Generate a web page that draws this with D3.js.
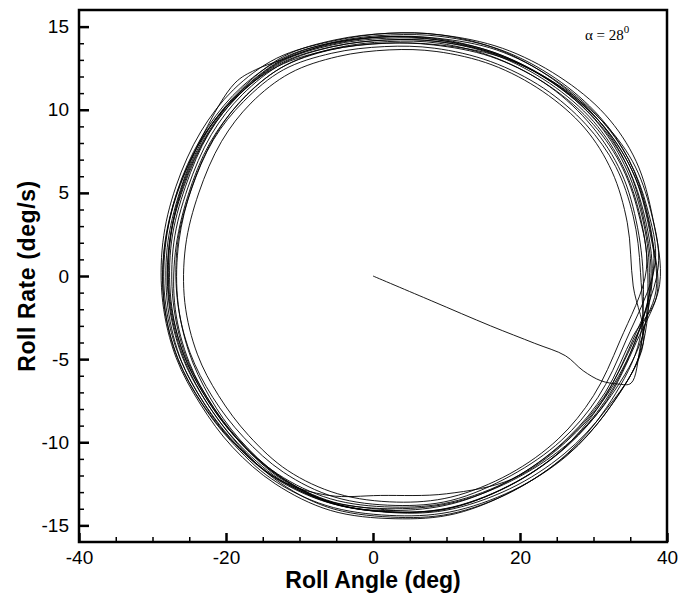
<!DOCTYPE html>
<html>
<head>
<meta charset="utf-8">
<script src="https://cdn.jsdelivr.net/npm/d3@7"></script>
<style>
  html, body { margin: 0; padding: 0; background: #fff; }
  svg { display: block; }
</style>
</head>
<body>
<script>
// ---- Data ----
const xTicks = [-40, -20, 0, 20, 40];
const yTicks = [-15, -10, -5, 0, 5, 10, 15];
const xMinorTicks = [-35, -30, -25, -15, -10, -5, 5, 10, 15, 25, 30, 35];
const yMinorTicks = [-14, -13, -12, -11, -9, -8, -7, -6, -4, -3, -2, -1, 1, 2, 3, 4, 6, 7, 8, 9, 11, 12, 13, 14];
const annotation = "α = 28";

// [roll angle (deg), roll rate (deg/s)]
const transient = [[0, 0], [8, -1.5], [16, -3.0], [22, -4.05], [26.2, -4.8], [28.6, -5.7], [31.0, -6.3], [33.4, -6.5], [35.1, -6.45], [36.4, -4.2]];
const loop1 = [[38.0, 0.0], [37.0, 3.5], [34.6, 6.6], [30.5, 9.3], [24.5, 11.6], [17.0, 13.3], [9.0, 14.1], [2.0, 14.2], [-5.5, 13.8], [-12.5, 12.8], [-18.2, 10.9], [-22.5, 8.5], [-25.8, 5.3], [-27.7, 2.0], [-27.8, -1.5], [-26.0, -4.8], [-22.8, -7.5], [-18.5, -10.0], [-12.8, -12.2], [-5.5, -13.7], [3.0, -14.2], [11.0, -13.9], [19.5, -12.4], [26.5, -10.2], [31.8, -7.5], [35.8, -4.0]];
const loop2 = [[39.0, -0.5], [38.1, 3.4], [35.8, 6.9], [31.6, 9.7], [25.3, 12.0], [17.6, 13.7], [9.3, 14.5], [2.0, 14.6], [-5.8, 14.1], [-13.1, 13.1], [-19.0, 11.2], [-23.4, 8.7], [-26.8, 5.4], [-28.6, 2.0], [-28.6, -1.6], [-26.8, -4.9], [-23.5, -7.7], [-19.1, -10.3], [-13.3, -12.5], [-5.8, -14.1], [3.0, -14.6], [11.2, -14.3], [20.0, -12.7], [27.3, -10.4], [32.7, -7.6], [36.8, -4.0]];
const loop3 = [[35.4, -0.6], [34.6, 3.2], [32.5, 6.3], [28.8, 8.9], [23.1, 11.1], [16.2, 12.7], [8.7, 13.5], [2.2, 13.6], [-4.8, 13.2], [-11.3, 12.2], [-16.6, 10.4], [-20.6, 8.1], [-23.7, 5.0], [-25.5, 1.8], [-25.6, -1.6], [-23.9, -4.7], [-21.0, -7.2], [-16.9, -9.6], [-11.6, -11.7], [-4.8, -13.1], [3.2, -13.6], [10.6, -13.3], [18.6, -11.9], [25.2, -9.8], [30.0, -7.2], [33.6, -3.9]];
const loop4 = [[37.2, 0.4], [36.1, 3.8], [33.6, 6.8], [29.4, 9.4], [23.4, 11.6], [16.0, 13.2], [8.2, 13.9], [1.3, 14.0], [-5.8, 13.6], [-12.6, 12.5], [-18.0, 10.5], [-22.2, 8.0], [-25.2, 4.8], [-26.9, 1.4], [-26.9, -2.0], [-25.0, -5.2], [-21.7, -7.9], [-17.3, -10.3], [-11.6, -12.4], [-4.4, -13.8], [3.8, -14.1], [11.6, -13.6], [19.8, -12.0], [26.6, -9.7], [31.6, -7.0], [35.4, -3.6]];
const loop5 = [[38.6, -1.2], [37.8, 2.6], [35.6, 6.0], [31.6, 8.9], [25.6, 11.3], [18.2, 13.1], [10.2, 14.1], [3.0, 14.4], [-4.6, 14.1], [-11.8, 13.2], [-17.8, 11.4], [-22.4, 9.0], [-26.0, 5.9], [-28.0, 2.6], [-28.4, -0.9], [-26.9, -4.2], [-23.9, -7.0], [-19.8, -9.6], [-14.2, -11.9], [-7.0, -13.5], [1.6, -14.2], [9.8, -14.1], [18.6, -12.8], [26.0, -10.7], [31.6, -8.1], [36.2, -4.8]];
const loop6 = [[36.4, 0.2], [35.4, 3.6], [33.0, 6.6], [29.0, 9.1], [23.2, 11.3], [16.0, 12.9], [8.4, 13.7], [1.6, 13.8], [-5.6, 13.4], [-12.2, 12.4], [-17.6, 10.5], [-21.7, 8.2], [-24.8, 5.1], [-26.6, 1.9], [-26.6, -1.5], [-24.9, -4.6], [-21.8, -7.3], [-17.6, -9.7], [-12.2, -11.8], [-5.2, -13.3], [3.0, -13.8], [10.6, -13.5], [18.8, -12.0], [25.6, -9.9], [30.6, -7.3], [34.4, -3.9]];
const loop7 = [[38.4, 0.8], [37.3, 4.1], [34.8, 7.0], [30.6, 9.6], [24.4, 11.9], [16.8, 13.6], [8.8, 14.3], [1.8, 14.4], [-5.6, 14.0], [-12.4, 13.0], [-16.0, 12.4], [-18.8, 11.6], [-23.0, 8.6], [-26.2, 5.2], [-28.0, 1.7], [-27.9, -1.9], [-26.0, -5.2], [-22.6, -7.9], [-18.2, -10.3], [-12.6, -12.3], [-6.0, -13.2], [1.0, -13.2], [10.0, -13.1], [19.0, -12.2], [26.2, -10.0], [31.6, -7.3], [35.8, -3.8]];
const loop8 = [[37.8, -0.3], [36.9, 3.3], [34.6, 6.6], [30.6, 9.4], [24.6, 11.8], [17.2, 13.6], [9.2, 14.5], [2.2, 14.6], [-5.2, 14.2], [-12.2, 13.2], [-18.0, 11.2], [-22.4, 8.8], [-25.8, 5.6], [-27.6, 2.3], [-27.8, -1.1], [-26.2, -4.4], [-23.2, -7.2], [-19.0, -9.8], [-13.4, -12.2], [-6.2, -13.9], [2.4, -14.5], [10.6, -14.3], [19.2, -12.9], [26.4, -10.7], [31.8, -7.9], [36.0, -4.3]];
const loop9 = [[36.8, -0.8], [36.0, 2.9], [33.8, 6.2], [29.8, 9.0], [24.0, 11.4], [16.8, 13.1], [9.0, 14.0], [2.0, 14.1], [-5.2, 13.7], [-11.8, 12.7], [-17.2, 10.9], [-21.4, 8.5], [-24.6, 5.4], [-26.4, 2.1], [-26.6, -1.3], [-25.1, -4.5], [-22.2, -7.3], [-18.2, -9.8], [-12.8, -12.0], [-5.8, -13.6], [2.4, -14.2], [10.2, -14.0], [18.6, -12.6], [25.6, -10.5], [30.8, -7.8], [34.8, -4.4]];
const loop10 = [[38.8, 0.5], [37.8, 3.9], [35.3, 6.9], [31.0, 9.4], [24.8, 11.6], [17.2, 13.2], [9.0, 13.9], [1.8, 14.0], [-5.9, 13.6], [-13.0, 12.6], [-18.8, 10.7], [-23.2, 8.3], [-26.6, 5.1], [-28.4, 1.7], [-28.4, -1.8], [-26.5, -5.0], [-23.2, -7.7], [-18.8, -10.1], [-13.0, -12.2], [-5.6, -13.6], [3.0, -14.0], [11.2, -13.6], [19.8, -12.1], [27.0, -9.9], [32.4, -7.2], [36.6, -3.7]];
const loop11 = [[37.4, 0.0], [36.4, 3.5], [34.0, 6.6], [30.0, 9.3], [24.0, 11.6], [16.6, 13.3], [8.8, 14.1], [1.8, 14.2], [-5.4, 13.8], [-12.2, 12.8], [-17.8, 10.9], [-22.0, 8.5], [-25.2, 5.3], [-27.1, 2.0], [-27.2, -1.5], [-25.5, -4.8], [-22.3, -7.5], [-18.1, -10.0], [-12.5, -12.2], [-5.3, -13.7], [3.0, -14.2], [10.8, -13.9], [19.4, -12.4], [26.4, -10.2], [31.6, -7.5], [35.6, -4.0]];
const loop12 = [[38.2, 0.6], [37.2, 4.0], [34.8, 7.0], [30.8, 9.6], [24.8, 11.9], [17.4, 13.6], [9.4, 14.4], [2.4, 14.5], [-5.0, 14.1], [-12.0, 13.1], [-17.8, 11.2], [-22.2, 8.8], [-25.6, 5.7], [-27.5, 2.4], [-27.7, -1.1], [-26.0, -4.4], [-22.9, -7.2], [-18.7, -9.7], [-13.0, -11.9], [-5.8, -13.4], [2.6, -13.9], [10.6, -13.6], [19.0, -12.2], [26.0, -10.0], [31.4, -7.3], [35.6, -3.8]];
const loop13 = [[38.5, -0.9], [37.6, 2.8], [35.4, 6.2], [31.4, 9.0], [25.4, 11.4], [17.9, 13.2], [9.8, 14.2], [2.6, 14.4], [-5.0, 14.0], [-12.2, 13.0], [-18.2, 11.0], [-22.8, 8.6], [-26.2, 5.5], [-28.2, 2.2], [-28.5, -1.2], [-26.9, -4.6], [-23.7, -7.4], [-19.4, -9.9], [-13.8, -12.2], [-6.4, -13.8], [2.2, -14.4], [10.4, -14.2], [19.0, -12.9], [26.4, -10.8], [31.9, -8.1], [36.4, -4.6]];
const loop14 = [[37.6, 0.2], [36.6, 3.6], [34.2, 6.7], [30.2, 9.4], [24.2, 11.7], [16.8, 13.4], [8.8, 14.2], [1.8, 14.3], [-5.5, 13.9], [-12.4, 12.9], [-18.0, 11.0], [-22.3, 8.6], [-25.5, 5.4], [-27.4, 2.1], [-27.5, -1.4], [-25.8, -4.7], [-22.6, -7.4], [-18.3, -9.9], [-12.6, -12.1], [-5.4, -13.6], [3.0, -14.1]];

// ---- Layout ----
const W = 681, H = 596;
const margin = { left: 79, right: 14, top: 10, bottom: 54 };
const FONT = "'Liberation Sans', Arial, sans-serif";

const svg = d3.select("body").append("svg")
  .attr("width", W).attr("height", H)
  .style("font-family", FONT);

const x = d3.scaleLinear().domain([-40, 40]).range([margin.left, W - margin.right]);
const y = d3.scaleLinear().domain([-16, 16]).range([H - margin.bottom, margin.top]);

// Trajectory (one continuous curve)
const trajectory = [].concat(transient, loop1, loop2, loop3, loop4, loop5, loop6, loop7,
  loop8, loop9, loop10, loop11, loop12, loop13, loop14);
const line = d3.line()
  .x(d => x(d[0]))
  .y(d => y(d[1]))
  .curve(d3.curveCatmullRom.alpha(0.5));

svg.append("path")
  .datum(trajectory)
  .attr("d", line)
  .attr("fill", "none")
  .attr("stroke", "#000")
  .attr("stroke-width", 0.9)
  .attr("stroke-linejoin", "round");

// Axes (ticks point inward)
const fmt = d => String(d);
const xAxis = svg.append("g")
  .attr("transform", `translate(0,${y(-16)})`)
  .call(d3.axisBottom(x).tickValues(xTicks).tickSize(-9).tickPadding(9).tickFormat(fmt));
const xMinor = svg.append("g")
  .attr("transform", `translate(0,${y(-16)})`)
  .call(d3.axisBottom(x).tickValues(xMinorTicks).tickSize(-5).tickFormat(""));
const yAxis = svg.append("g")
  .attr("transform", `translate(${x(-40)},0)`)
  .call(d3.axisLeft(y).tickValues(yTicks).tickSize(-10).tickPadding(10).tickFormat(fmt));
const yMinor = svg.append("g")
  .attr("transform", `translate(${x(-40)},0)`)
  .call(d3.axisLeft(y).tickValues(yMinorTicks).tickSize(-5).tickFormat(""));

[xAxis, xMinor, yAxis, yMinor].forEach(g => {
  g.select(".domain").remove();
  g.selectAll(".tick line").attr("stroke", "#000").attr("stroke-width", 1.5);
  g.selectAll(".tick text")
    .attr("fill", "#000")
    .style("font-size", "19px")
    .style("font-family", FONT);
});
xAxis.selectAll(".tick line").attr("stroke-width", 2.5);
yAxis.selectAll(".tick line").attr("stroke-width", 2.5);

// Frame
svg.append("rect")
  .attr("x", x(-40)).attr("y", y(16))
  .attr("width", x(40) - x(-40)).attr("height", y(-16) - y(16))
  .attr("fill", "none").attr("stroke", "#000").attr("stroke-width", 2.5);

// Axis titles
svg.append("text")
  .attr("x", x(0)).attr("y", 588)
  .attr("text-anchor", "middle")
  .style("font-size", "23px").style("font-weight", "bold")
  .text("Roll Angle (deg)");

svg.append("text")
  .attr("transform", `translate(35,${y(0)}) rotate(-90)`)
  .attr("text-anchor", "middle")
  .style("font-size", "23px").style("font-weight", "bold")
  .style("letter-spacing", "0.6px")
  .text("Roll Rate (deg/s)");

// Annotation
const ann = svg.append("text")
  .attr("x", 585).attr("y", 40)
  .style("font-family", "'Liberation Serif', 'Times New Roman', serif")
  .style("font-size", "15px");
ann.append("tspan").text(annotation);
ann.append("tspan").attr("dy", -7).style("font-size", "11px").text("0");
</script>
</body>
</html>
